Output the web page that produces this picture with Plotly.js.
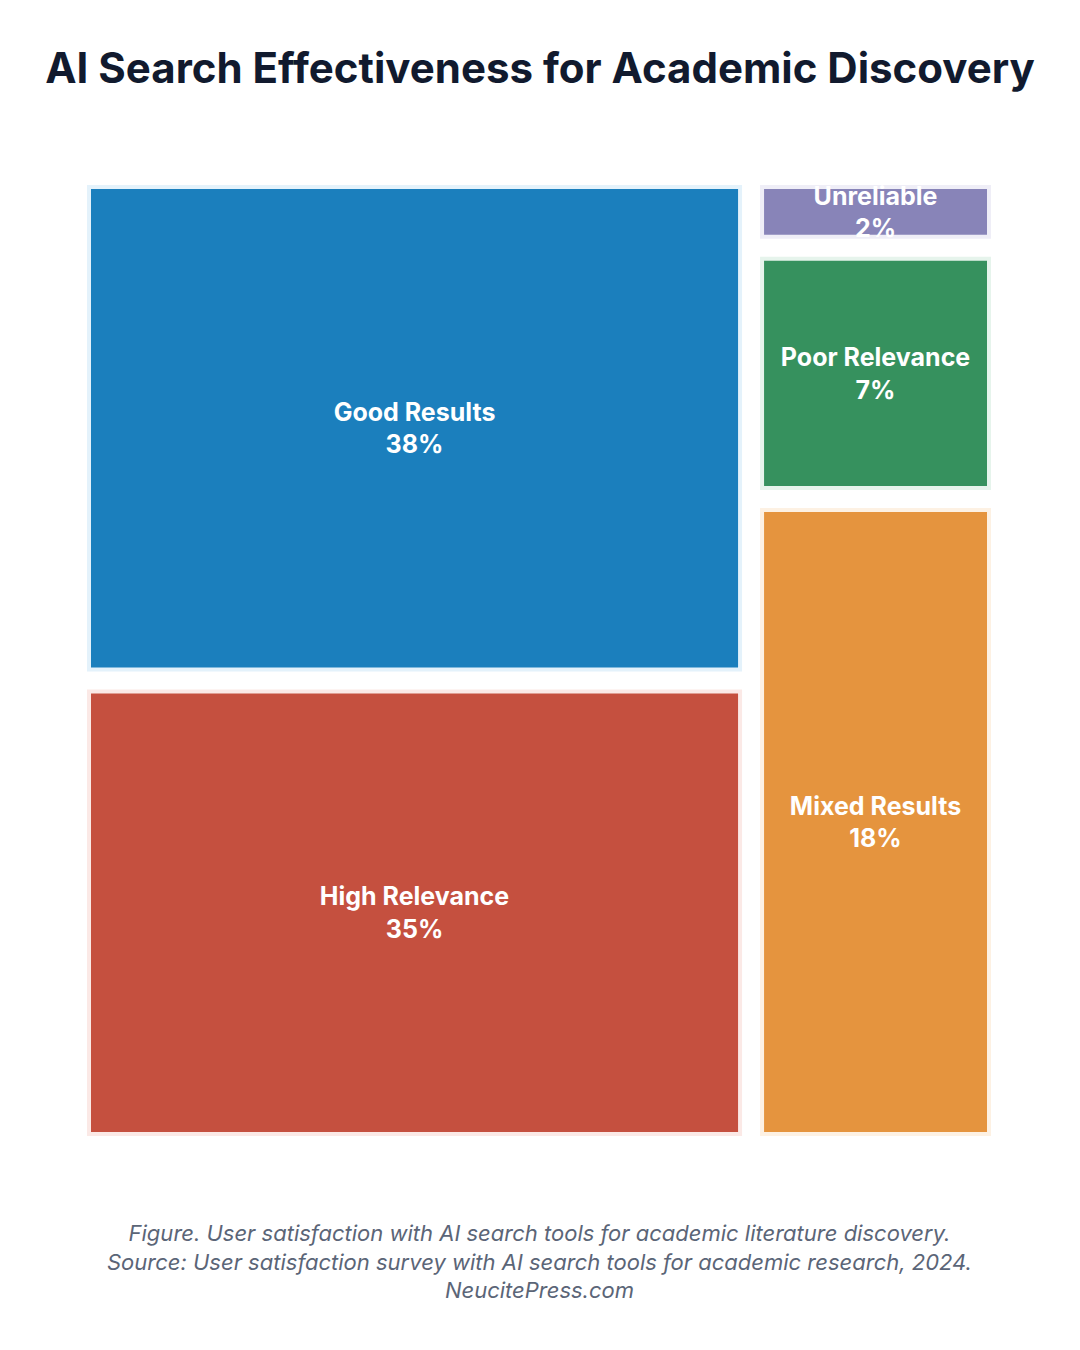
<!DOCTYPE html>
<html>
<head>
<meta charset="utf-8">
<script src="https://cdn.plot.ly/plotly-3.0.1.min.js"></script>
<style>html,body{margin:0;padding:0;background:#fff;}#chart{width:1080px;height:1350px;}</style>
</head>
<body>
<div id="chart"></div>
<script>
// Data (display order)
var categories = ["Good Results", "High Relevance", "Unreliable", "Poor Relevance", "Mixed Results"];
var shares = [38, 35, 2, 7, 18];
var columnGroup = ["colA", "colA", "colB", "colB", "colB"];
var groupIds = ["colA", "colB"];
var fillColors = ["#1b7fbd", "#c5503f", "#8884b8", "#36915e", "#e5943e"];
var edgeColors = ["#e4f2fb", "#fbe9e6", "#efeef7", "#e6f4ec", "#fdf1e3"];

var ids = groupIds.concat(categories);
var labels = groupIds.map(function(){return "";}).concat(categories);
var parents = groupIds.map(function(){return "";}).concat(columnGroup);
var values = groupIds.map(function(){return 0;}).concat(shares);
var colors = groupIds.map(function(){return "rgba(0,0,0,0)";}).concat(fillColors);
var lineColors = groupIds.map(function(){return "rgba(0,0,0,0)";}).concat(edgeColors);
var lineWidths = groupIds.map(function(){return 0;}).concat(categories.map(function(){return 4;}));
var templates = groupIds.map(function(){return " ";}).concat(categories.map(function(){return "<b>%{label}</b><br><b>%{value}%</b>";}));

var trace = {
  type: "treemap",
  ids: ids,
  labels: labels,
  parents: parents,
  values: values,
  branchvalues: "remainder",
  sort: false,
  texttemplate: templates,
  textposition: "middle center",
  textfont: {family: "Inter, 'Open Sans', sans-serif", size: 25, color: "#ffffff"},
  marker: {
    colors: colors,
    line: {color: lineColors, width: lineWidths},
    pad: {t: 0, l: 0, r: 0, b: 0}
  },
  tiling: {packing: "slice-dice", pad: 22},
  pathbar: {visible: false},
  hoverinfo: "label+value"
};

var layout = {
  width: 1080,
  height: 1350,
  paper_bgcolor: "#ffffff",
  plot_bgcolor: "#ffffff",
  margin: {l: 89, r: 91, t: 187, b: 216},
  uniformtext: {mode: "show", minsize: 25},
  title: {
    text: "<b>AI Search Effectiveness for Academic Discovery</b>",
    font: {family: "Inter, 'Open Sans', sans-serif", size: 42, color: "#111a2e"},
    x: 0.5, xanchor: "center",
    y: 0.9496, yanchor: "middle", yref: "container"
  },
  annotations: [{
    text: "<i>Figure. User satisfaction with AI search tools for academic literature discovery.</i><br><i>Source: User satisfaction survey with AI search tools for academic research, 2024.</i><br><i>NeucitePress.com</i>",
    xref: "paper", yref: "paper", x: 0.5, y: 0, xanchor: "center", yanchor: "top",
    yshift: -84, showarrow: false, align: "center",
    font: {family: "Inter, 'Open Sans', sans-serif", size: 22, color: "#5b6577"}
  }]
};

Plotly.newPlot("chart", [trace], layout, {displayModeBar: false, responsive: false});
</script>
</body>
</html>
